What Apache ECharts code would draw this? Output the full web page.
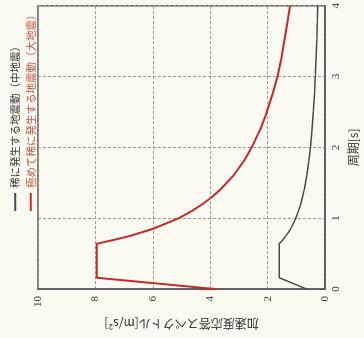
<!DOCTYPE html>
<html><head><meta charset="utf-8">
<script src="https://cdn.jsdelivr.net/npm/echarts@6/dist/echarts.min.js"></script>
<style>
html,body{margin:0;padding:0;background:#fbfaf2;width:364px;height:338px;overflow:hidden}
#chart{position:absolute;width:338px;height:364px;left:0;top:0;transform-origin:0 0;transform:translate(0,338px) rotate(-90deg);}
</style></head>
<body><div id="chart"></div>
<script>
// Period [s]
const periods = [0, 0.16, 0.64, 0.7, 0.75, 0.8, 0.85, 0.9, 1.0, 1.1, 1.2, 1.3, 1.4, 1.6, 1.8, 2.0, 2.25, 2.5, 2.75, 3.0, 3.25, 3.5, 3.75, 4.0];
// 稀に発生する地震動（中地震）
const rareValues = [0.64, 1.6, 1.6, 1.46, 1.37, 1.28, 1.2, 1.14, 1.02, 0.93, 0.85, 0.79, 0.73, 0.64, 0.57, 0.51, 0.46, 0.41, 0.37, 0.34, 0.32, 0.29, 0.27, 0.26];
// 極めて稀に発生する地震動（大地震）
const veryRareValues = [3.8, 7.95, 7.95, 7.3, 6.8, 6.4, 6.0, 5.7, 5.1, 4.65, 4.27, 3.94, 3.66, 3.2, 2.84, 2.56, 2.26, 2.03, 1.83, 1.66, 1.53, 1.42, 1.32, 1.22];
const seriesNames = ['稀に発生する地震動（中地震）', '極めて稀に発生する地震動（大地震）'];
const xTicks = [0, 1, 2, 3, 4];
const yTicks = [0, 2, 4, 6, 8, 10];

const pairs = vals => periods.map((t, i) => [t, vals[i]]);
const chart = echarts.init(document.getElementById('chart'), null, {width: 338, height: 364, renderer: 'canvas'});
const tickFont = {fontFamily: 'Liberation Serif', fontSize: 11, color: '#333'};
const nameFont = {fontFamily: 'Noto Sans CJK JP', fontSize: 12, color: '#333'};
chart.setOption({
  backgroundColor: '#fbfaf2',
  animation: false,
  legend: {
    orient: 'vertical', left: 122, top: 5, itemWidth: 18, itemHeight: 2, itemGap: 5,
    icon: 'rect',
    textStyle: {fontFamily: 'Noto Sans CJK JP', fontSize: 10.5},
    data: [
      {name: seriesNames[0], textStyle: {color: '#333'}},
      {name: seriesNames[1], textStyle: {color: '#c5553c'}}
    ]
  },
  grid: {left: 41, right: 4, top: 38, bottom: 33, show: true, borderColor: '#555', borderWidth: 1.5, backgroundColor: 'transparent'},
  xAxis: {
    type: 'value', min: 0, max: 4, interval: 1,
    name: '周期[s]', nameLocation: 'middle', nameGap: 20, nameTextStyle: nameFont,
    axisLine: {show: true, lineStyle: {color: '#555', width: 1.5}},
    axisTick: {show: false},
    axisLabel: Object.assign({margin: 6, formatter: v => xTicks.includes(v) ? String(v) : ''}, tickFont),
    splitLine: {show: true, lineStyle: {color: '#999', type: [3, 2], width: 1}}
  },
  yAxis: {
    type: 'value', min: 0, max: 10, interval: 2,
    name: '加速度応答スペクトル[m/s²]', nameLocation: 'middle', nameGap: 20, nameTextStyle: nameFont,
    axisLine: {show: true, lineStyle: {color: '#555', width: 1.5}},
    axisTick: {show: false},
    axisLabel: Object.assign({margin: 7, formatter: v => yTicks.includes(v) ? String(v) : ''}, tickFont),
    splitLine: {show: true, lineStyle: {color: '#999', type: [3, 2], width: 1}}
  },
  series: [
    {name: seriesNames[0], type: 'line', data: pairs(rareValues), symbol: 'none', smooth: false,
     lineStyle: {color: '#4a4a4a', width: 1.5}, itemStyle: {color: '#4a4a4a'}},
    {name: seriesNames[1], type: 'line', data: pairs(veryRareValues), symbol: 'none', smooth: false,
     lineStyle: {color: '#c42a2a', width: 2}, itemStyle: {color: '#c42a2a'}}
  ]
});
</script></body></html>
